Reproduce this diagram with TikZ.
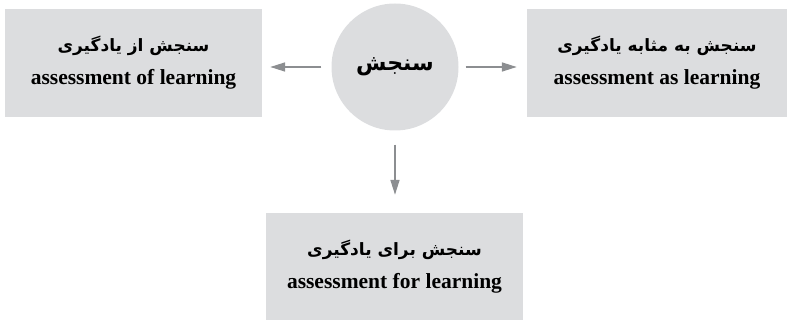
\documentclass[tikz,border=0pt]{standalone}
\usepackage{fontspec}
\setmainfont{Liberation Serif}
\newfontfamily\arabicfont[Script=Arabic]{DejaVu Sans}
\TeXXeTstate=1
\usetikzlibrary{arrows.meta}

\definecolor{boxgray}{HTML}{DCDDDF}
\definecolor{arrowgray}{HTML}{8C8E91}

\tikzset{
	kindbox/.style={fill=boxgray, minimum width=257pt, minimum height=108pt, align=center, inner sep=0pt, font=\bfseries\fontsize{21.5}{33}\selectfont},
	hub/.style={circle, fill=boxgray, minimum size=127pt, inner sep=0pt, font=\arabicfont\bfseries\fontsize{22}{26}\selectfont},
	flow/.style={arrowgray, line width=1.6pt, -{Triangle[length=15pt, width=9pt]}}
}

\newcommand\fa[1]{{\arabicfont\fontsize{17}{33}\selectfont\beginR #1\endR}}

\begin{document}
\begin{tikzpicture}[x=1pt, y=-1pt]

	\useasboundingbox (0,0) rectangle (787,320);

	\node[hub] (c) at (395,67) {\beginR سنجش\endR};

	\node[kindbox] (of) at (133.5,63) {\fa{سنجش از یادگیری}\\assessment of learning};
	\node[kindbox, minimum width=260pt] (as) at (657,63) {\fa{سنجش به مثابه یادگیری}\\assessment as learning};
	\node[kindbox, minimum height=107pt] (for) at (394.5,266.5) {\fa{سنجش برای یادگیری}\\assessment for learning};

	\draw[flow, shorten <=10pt, shorten >=8pt] (c.west) -- (c.west -| of.east);
	\draw[flow, shorten <=7pt, shorten >=10pt] (c.east) -- (c.east -| as.west);
	\draw[flow, shorten <=14pt, shorten >=18pt] (c.south) -- (c.south |- for.north);

\end{tikzpicture}
\end{document}
